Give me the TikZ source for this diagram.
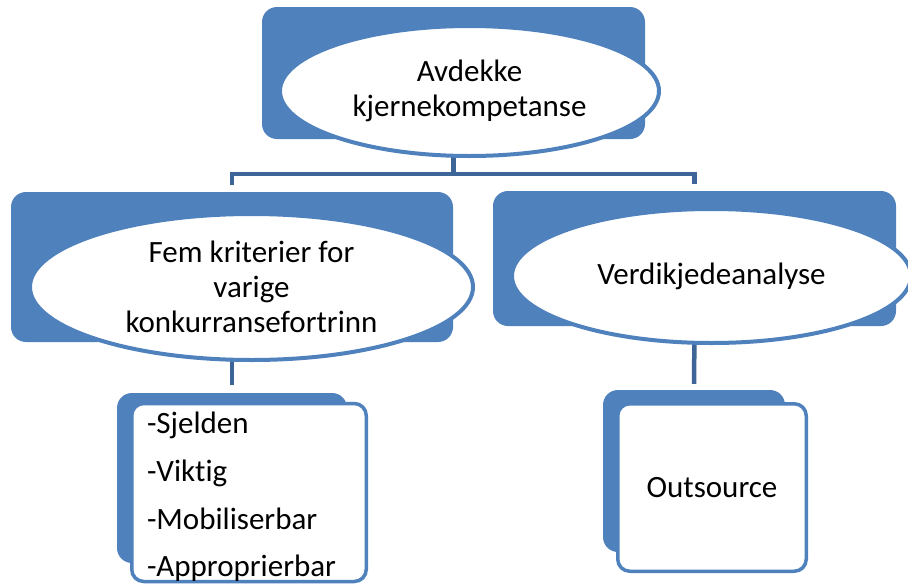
\documentclass[tikz,border=0pt]{standalone}
\usepackage{fontspec}
\setmainfont[Ligatures={NoCommon}]{Carlito}
\usetikzlibrary{shapes.geometric}
\definecolor{accent}{RGB}{79,129,189}
\definecolor{connc}{RGB}{62,101,152}
\begin{document}
\begin{tikzpicture}[x=1pt,y=-1pt,
  bluebox/.style={draw=none, fill=accent, rounded corners=15pt, inner sep=0pt},
  oval/.style={ellipse, draw=accent, line width=4pt, fill=white, inner sep=0pt, align=center,
    font=\fontsize{31}{35}\selectfont},
  card/.style={draw=accent, line width=3.5pt, fill=white, rounded corners=12pt, inner sep=0pt,
    font=\fontsize{31}{35}\selectfont},
  conn/.style={draw=connc, line width=4.5pt, line join=miter}]
\useasboundingbox (0,0) rectangle (908,584);
\fill[white] (0,0) rectangle (908,584);

% parent shapes positioned first (names needed by connectors)
\path node[bluebox, minimum width=383pt, minimum height=132pt] (top) at (453.5,73) {};
\path node[bluebox, minimum width=442pt, minimum height=150pt] (left) at (232,267) {};
\path node[bluebox, minimum width=403pt, minimum height=135pt] (right) at (694.5,258.5) {};
\path node[bluebox, minimum width=230pt, minimum height=170pt] (bl) at (232,478) {};
\path node[bluebox, minimum width=182pt, minimum height=162pt] (br) at (694,471) {};

% connectors
\coordinate (j) at (453.5,174);
\draw[conn] (top.south) -- (j);
\draw[conn, shorten >=7pt] (j) -| (left.north);
\draw[conn, shorten >=7pt] (j) -| (right.north);
\draw[conn, shorten >=8pt] (left.south) -- (bl.north);
\draw[conn, shorten >=6pt] (right.south) -- (br.north);

% foreground shapes
\node[oval, minimum width=379pt, minimum height=130pt] (topE) at (469.5,91)
  {Avdekke\\kjernekompetanse};
\node[oval, minimum width=443pt, minimum height=146pt] (leftE) at (251.5,287)
  {Fem kriterier for\\varige\\konkurransefortrinn};
\node[oval, minimum width=399pt, minimum height=134pt] (rightE) at (711.5,276)
  {Verdikjedeanalyse};
\node[card, minimum width=234.5pt, minimum height=175.5pt, align=left, text width=204pt] (blw) at (249,492.5)
  {\rule{0pt}{30pt}-Sjelden\\[13pt]-Viktig\\[13pt]-Mobiliserbar\\[12pt]-Approprierbar};
\node[card, minimum width=188.5pt, minimum height=167.5pt] (brw) at (712,487.5)
  {Outsource};
\end{tikzpicture}
\end{document}
